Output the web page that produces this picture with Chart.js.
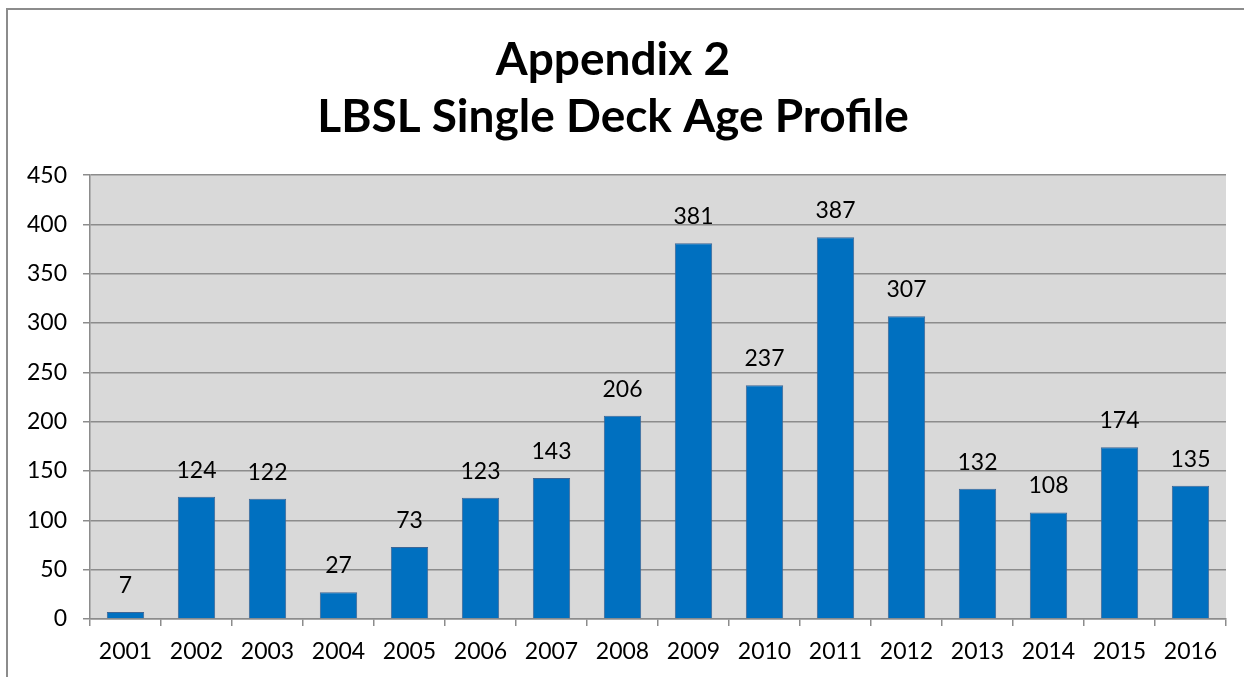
<!DOCTYPE html>
<html><head><meta charset="utf-8">
<script src="https://cdn.jsdelivr.net/npm/chart.js@4/dist/chart.umd.min.js"></script>
<style>html,body{margin:0;padding:0;background:#fff;}#wrap{width:1244px;height:677px;position:relative;}</style>
</head><body><div id="wrap"><canvas id="c" width="1244" height="677"></canvas></div>
<script>
const years = ['2001','2002','2003','2004','2005','2006','2007','2008','2009','2010','2011','2012','2013','2014','2015','2016'];
const buses = [7,124,122,27,73,123,143,206,381,237,387,307,132,108,174,135];
const titleLines = ['Appendix 2','LBSL Single Deck Age Profile'];
const FONT = 'Lato, "DejaVu Sans", sans-serif';

const framePlugin = {
  id:'frame',
  beforeDraw(chart){
    const {ctx, chartArea:a} = chart;
    ctx.save();
    ctx.fillStyle='#fff'; ctx.fillRect(0,0,chart.width,chart.height);
    ctx.strokeStyle='#8c8c8c'; ctx.lineWidth=2;
    ctx.strokeRect(7,9,1260,720);
    ctx.fillStyle='#d9d9d9';
    ctx.fillRect(a.left,a.top,a.right-a.left,a.bottom-a.top);
    ctx.restore();
  }
};
const labelPlugin = {
  id:'vals',
  afterDatasetsDraw(chart){
    const {ctx} = chart;
    const meta = chart.getDatasetMeta(0);
    ctx.save();
    ctx.fillStyle='#000'; ctx.font='23px '+FONT;
    ctx.textAlign='center'; ctx.textBaseline='alphabetic';
    meta.data.forEach((el,i)=>{
      ctx.fillText(String(chart.data.datasets[0].data[i]), el.x, el.y-19);
    });
    ctx.restore();
  }
};

new Chart(document.getElementById('c'),{
  type:'bar',
  data:{labels:years,datasets:[{data:buses,backgroundColor:'#0070c0',borderColor:'#3d6696',borderWidth:1,barPercentage:0.526,categoryPercentage:1}]},
  options:{
    responsive:false,animation:false,
    layout:{padding:{left:0,right:18,top:20,bottom:0}},
    plugins:{
      legend:{display:false},tooltip:{enabled:false},
      title:{display:true,text:titleLines,color:'#000',font:{family:FONT,size:46,weight:'bold',lineHeight:1.24},padding:{top:11.5,bottom:29.5}}
    },
    scales:{
      x:{
        grid:{display:true,drawOnChartArea:false,drawTicks:true,tickLength:7,color:'#8c8c8c',lineWidth:1.5,offset:true},
        border:{display:true,color:'#8c8c8c',width:1.5},
        ticks:{color:'#000',font:{family:FONT,size:23},padding:12,maxRotation:0,autoSkip:false},
        afterFit(s){s.height=58;}
      },
      y:{
        min:0,max:450,
        grid:{color:'#8c8c8c',lineWidth:1.5,drawTicks:true,tickLength:7},
        border:{display:true,color:'#8c8c8c',width:1.5},
        ticks:{stepSize:50,color:'#000',font:{family:FONT,size:23},padding:16},
        afterFit(s){s.width=90;}
      }
    }
  },
  plugins:[framePlugin,labelPlugin]
});
</script></body></html>
